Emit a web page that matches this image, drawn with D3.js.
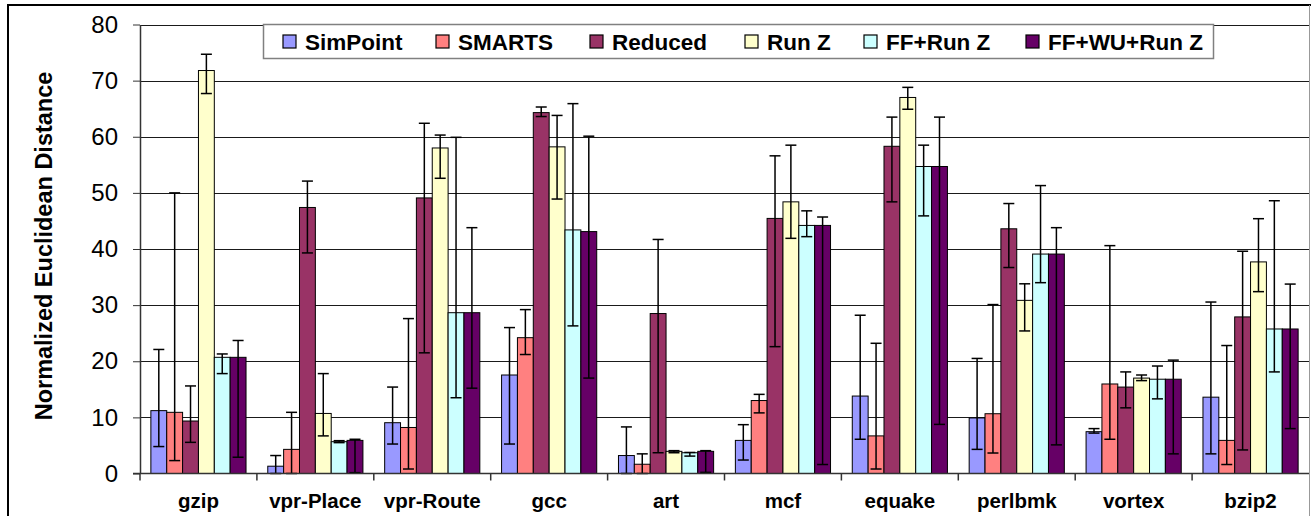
<!DOCTYPE html>
<html>
<head>
<meta charset="utf-8">
<script src="https://cdn.jsdelivr.net/npm/d3@7"></script>
<style>
  html, body { margin: 0; padding: 0; background: #fff; }
  svg { display: block; }
  text { font-family: "Liberation Sans", Arial, sans-serif; }
</style>
</head>
<body>
<script>
// ---------- data ----------
const categories = ["gzip", "vpr-Place", "vpr-Route", "gcc", "art", "mcf", "equake", "perlbmk", "vortex", "bzip2"];
const seriesNames = ["SimPoint", "SMARTS", "Reduced", "Run Z", "FF+Run Z", "FF+WU+Run Z"];
const seriesColors = ["#9999FF", "#FF8080", "#993366", "#FFFFCC", "#CCFFFF", "#660066"];
const yTicks = [0, 10, 20, 30, 40, 50, 60, 70, 80];

const simpoint   = [11.2, 1.3, 9.05, 17.55, 3.2, 5.9, 13.8, 9.9, 7.45, 13.6];
const simpointHi = [22.1, 3.2, 15.4, 26.0, 8.3, 8.7, 28.2, 20.5, 8.0, 30.55];
const simpointLo = [4.8, 0, 5.25, 5.25, 0, 2.4, 6.1, 4.3, 7.2, 3.5];

const smarts   = [10.9, 4.3, 8.2, 24.2, 1.65, 13.0, 6.7, 10.65, 15.95, 5.9];
const smartsHi = [50.0, 10.9, 27.6, 29.2, 3.5, 14.1, 23.2, 30.1, 40.6, 22.8];
const smartsLo = [2.3, 0, 0.8, 21.2, 0, 10.8, 0.8, 3.65, 6.1, 1.6];

const reduced   = [9.35, 47.4, 49.1, 64.3, 28.5, 45.45, 58.3, 43.6, 15.4, 27.9];
const reducedHi = [15.6, 52.1, 62.4, 65.3, 41.7, 56.6, 63.5, 48.1, 18.1, 39.6];
const reducedLo = [5.55, 39.3, 21.5, 63.6, 3.7, 22.6, 48.4, 36.7, 11.7, 4.2];

const runZ   = [71.8, 10.7, 58.0, 58.2, 3.95, 48.4, 67.0, 30.85, 17.0, 37.7];
const runZHi = [74.7, 17.8, 60.3, 63.8, 4.07, 58.5, 68.8, 33.8, 17.55, 45.4];
const runZLo = [67.7, 6.7, 52.6, 48.9, 3.7, 41.9, 64.9, 25.4, 16.55, 32.4];

const ffRunZ   = [20.7, 5.67, 28.65, 43.4, 3.7, 44.2, 54.7, 39.1, 16.8, 25.75];
const ffRunZHi = [21.3, 5.85, 59.9, 65.9, 3.75, 46.8, 58.5, 51.3, 19.15, 48.6];
const ffRunZLo = [17.8, 5.5, 13.5, 26.3, 3.1, 42.2, 45.9, 34.0, 13.3, 18.1];

const ffWuRunZ   = [20.7, 5.9, 28.65, 43.1, 3.95, 44.2, 54.7, 39.1, 16.8, 25.75];
const ffWuRunZHi = [23.7, 6.1, 43.8, 60.1, 4.07, 45.7, 63.5, 43.8, 20.2, 33.75];
const ffWuRunZLo = [2.9, 0.15, 15.2, 17.0, 0.2, 1.6, 8.75, 5.1, 3.5, 8.0];

const seriesValues = [simpoint, smarts, reduced, runZ, ffRunZ, ffWuRunZ];
const seriesHi = [simpointHi, smartsHi, reducedHi, runZHi, ffRunZHi, ffWuRunZHi];
const seriesLo = [simpointLo, smartsLo, reducedLo, runZLo, ffRunZLo, ffWuRunZLo];

// ---------- layout ----------
const W = 1311, H = 516;
const plot = { left: 140, right: 1309, top: 24.5, bottom: 473.5 };

const svg = d3.select("body").append("svg").attr("width", W).attr("height", H);

// outer frame
svg.append("line").attr("x1", 8).attr("x2", W).attr("y1", 5).attr("y2", 5)
  .attr("stroke", "#000").attr("stroke-width", 2);
svg.append("line").attr("x1", 8).attr("x2", 8).attr("y1", 4).attr("y2", H)
  .attr("stroke", "#000").attr("stroke-width", 2);
svg.append("line").attr("x1", 1309.5).attr("x2", 1309.5).attr("y1", 5).attr("y2", H)
  .attr("stroke", "#999").attr("stroke-width", 1);

const x0 = d3.scaleBand().domain(categories).range([plot.left, plot.right]).padding(0);
const bw = x0.bandwidth();
const x1 = d3.scaleBand().domain(seriesNames).range([bw * 0.093, bw * 0.907]).padding(0);
const y = d3.scaleLinear().domain([0, 80]).range([plot.bottom, plot.top]);

// gridlines
svg.append("g").selectAll("line").data(yTicks.filter(t => t > 0)).join("line")
  .attr("x1", plot.left).attr("x2", plot.right)
  .attr("y1", d => Math.round(y(d)) + 0.5).attr("y2", d => Math.round(y(d)) + 0.5)
  .attr("stroke", "#1a1a1a").attr("stroke-width", 1);

// bars
const groups = svg.append("g").selectAll("g").data(categories).join("g")
  .attr("transform", d => `translate(${x0(d)},0)`);

groups.each(function(cat, ci) {
  const g = d3.select(this);
  seriesNames.forEach((s, si) => {
    const v = seriesValues[si][ci];
    g.append("rect")
      .attr("x", x1(s)).attr("width", x1.bandwidth())
      .attr("y", y(v)).attr("height", y(0) - y(v))
      .attr("fill", seriesColors[si]).attr("stroke", "#000").attr("stroke-width", 1);
  });
});

// error bars
const cap = 5.5;
groups.each(function(cat, ci) {
  const g = d3.select(this);
  seriesNames.forEach((s, si) => {
    const cx = x1(s) + x1.bandwidth() / 2;
    const hi = seriesHi[si][ci], lo = seriesLo[si][ci];
    g.append("line").attr("x1", cx).attr("x2", cx).attr("y1", y(hi)).attr("y2", y(lo))
      .attr("stroke", "#000").attr("stroke-width", 1.5);
    [hi, lo].forEach(e => {
      g.append("line").attr("x1", cx - cap).attr("x2", cx + cap).attr("y1", y(e)).attr("y2", y(e))
        .attr("stroke", "#000").attr("stroke-width", 1.5);
    });
  });
});

// y axis
const yAxis = svg.append("g").attr("transform", `translate(${plot.left},0)`)
  .call(d3.axisLeft(y).tickValues(yTicks).tickSize(7).tickPadding(15).tickSizeOuter(0));
yAxis.select(".domain").attr("stroke", "#333").attr("stroke-width", 1.5);
yAxis.selectAll(".tick line").attr("stroke", "#333");
yAxis.selectAll(".tick text").attr("font-size", 24).attr("font-family", "Liberation Sans, Arial, sans-serif")
  .attr("fill", "#000");
// extend y axis line down to tick length
svg.append("line").attr("x1", plot.left).attr("x2", plot.left).attr("y1", plot.bottom).attr("y2", plot.bottom + 7)
  .attr("stroke", "#333").attr("stroke-width", 1.5);

// x axis
svg.append("line").attr("x1", plot.left - 7).attr("x2", plot.right).attr("y1", plot.bottom).attr("y2", plot.bottom)
  .attr("stroke", "#333").attr("stroke-width", 1.5);
svg.append("g").selectAll("line").data(categories.slice(1)).join("line")
  .attr("x1", d => x0(d)).attr("x2", d => x0(d))
  .attr("y1", plot.bottom).attr("y2", plot.bottom + 7)
  .attr("stroke", "#333").attr("stroke-width", 1.5);
svg.append("g").selectAll("text").data(categories).join("text")
  .attr("x", d => x0(d) + bw / 2).attr("y", 508)
  .attr("text-anchor", "middle").attr("font-size", 20.5).attr("font-weight", "bold")
  .text(d => d);

// y title
svg.append("text")
  .attr("transform", `translate(52,${(70 + 422) / 2}) rotate(-90)`)
  .attr("text-anchor", "middle").attr("font-size", 23.5).attr("font-weight", "bold")
  .text("Normalized Euclidean Distance");

// legend
const legend = svg.append("g");
legend.append("rect").attr("x", 263.5).attr("y", 24.5).attr("width", 950).attr("height", 34)
  .attr("fill", "#fff").attr("stroke", "#808080").attr("stroke-width", 1.5);
const legendX = [283, 436, 590, 745, 864, 1026];
seriesNames.forEach((s, i) => {
  legend.append("rect").attr("x", legendX[i]).attr("y", 35).attr("width", 13).attr("height", 13)
    .attr("fill", seriesColors[i]).attr("stroke", "#000").attr("stroke-width", 1.2);
  legend.append("text").attr("x", legendX[i] + 22).attr("y", 49.5)
    .attr("font-size", 22.5).attr("font-weight", "bold").text(s);
});
</script>
</body>
</html>
